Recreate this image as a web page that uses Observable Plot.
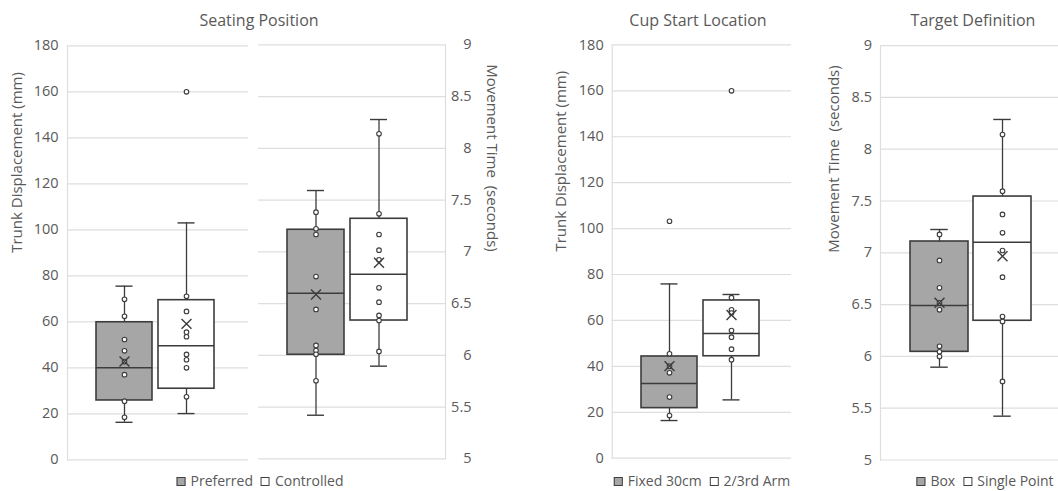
<!DOCTYPE html>
<html>
<head>
<meta charset="utf-8">
<script src="https://cdn.jsdelivr.net/npm/d3@7"></script>
<script src="https://cdn.jsdelivr.net/npm/@observablehq/plot@0.6"></script>
<style>
  html, body { margin: 0; padding: 0; background: #ffffff; }
  #wrap { position: relative; width: 1058px; height: 491px; overflow: hidden; font-family: "Open Sans", sans-serif; color: #595959; }
  #wrap svg { position: absolute; left: 0; top: 0; }
  svg text { white-space: pre; }
  .title { position: absolute; top: 9px; font-size: 16px; line-height: 22px; transform: translateX(-50%); white-space: nowrap; }
  .legend { position: absolute; top: 471px; font-size: 14px; line-height: 20px; transform: translateX(-50%); white-space: nowrap; display: flex; align-items: center; }
  .legend .sw { display: inline-block; width: 7px; height: 7px; border: 1px solid #404040; margin-right: 5px; }
  .legend .item { display: flex; align-items: center; margin-right: 8px; }
  .legend .item:last-child { margin-right: 0; }
</style>
</head>
<body>
<div id="wrap"></div>
<script>
// ---------------- data ----------------
const statFields = ["lo", "q1", "median", "q3", "hi", "mean"];
const trunkTicks = [0, 20, 40, 60, 80, 100, 120, 140, 160, 180];
const timeTicks = [5, 5.5, 6, 6.5, 7, 7.5, 8, 8.5, 9];
const boxFills = ["#a6a6a6", "#ffffff"];

const panelTitles = ["Seating Position", "Cup Start Location", "Target Definition"];
const trunkLabel = "Trunk Displacement (mm)";
const timeLabel = "Movement Time  (seconds)";

const seatingGroups = ["Preferred", "Controlled"];
const seatingTrunkStats = [
  [16.3, 25.8, 40.0, 59.8, 75.5, 42.7],
  [20.1, 30.9, 49.6, 69.4, 103.0, 59.1]
];
const seatingTrunkPoints = [
  [69.8, 62.4, 52.3, 47.4, 42.7, 37.0, 25.5, 18.5],
  [160, 71.1, 64.5, 55.5, 53.5, 45.8, 43.5, 40.0, 27.4]
];
const seatingTimeStats = [
  [5.421, 6.005, 6.600, 7.213, 7.592, 6.587],
  [5.895, 6.336, 6.784, 7.319, 8.278, 6.894]
];
const seatingTimePoints = [
  [7.383, 7.222, 7.167, 6.761, 6.443, 6.095, 6.046, 6.010, 5.754],
  [8.140, 7.367, 7.167, 7.016, 6.923, 6.652, 6.513, 6.385, 6.336, 6.037]
];

const cupGroups = ["Fixed 30cm", "2/3rd Arm"];
const cupTrunkStats = [
  [16.4, 21.8, 32.5, 44.3, 75.9, 40.1],
  [25.4, 44.4, 54.3, 68.7, 71.3, 62.4]
];
const cupTrunkPoints = [
  [103.2, 45.5, 40.1, 37.2, 26.6, 18.6],
  [160, 69.9, 64.6, 63.2, 55.6, 52.7, 47.5, 42.9]
];

const targetGroups = ["Box", "Single Point"];
const targetTimeStats = [
  [5.896, 6.044, 6.491, 7.109, 7.225, 6.517],
  [5.423, 6.344, 7.102, 7.543, 8.287, 6.967]
];
const targetTimePoints = [
  [7.177, 6.926, 6.662, 6.517, 6.450, 6.098, 6.044, 5.999],
  [8.142, 7.595, 7.370, 7.193, 7.022, 6.765, 6.385, 6.337, 5.758]
];

// ---------------- drawing ----------------
const W = 1058, H = 491;
const dark = "#3c3c3c";
const gridColor = "#dedede";
const wrap = document.getElementById("wrap");

function panel(cfg) {
  const boxes = cfg.groups.map((g, i) => {
    const o = {group: g};
    statFields.forEach((k, j) => o[k] = cfg.stats[i][j]);
    return o;
  });
  const pts = cfg.groups.flatMap((g, i) => cfg.points[i].map(v => ({group: g, v})));
  const step = cfg.c2 - cfg.c1;
  const pi = 1 - cfg.bw / step;
  const capInset = (cfg.bw - 17) / 2;
  const right = cfg.axisAnchor === "right";
  return Plot.plot({
    width: W, height: H,
    marginLeft: cfg.L, marginRight: W - cfg.R, marginTop: cfg.T, marginBottom: H - cfg.B,
    style: {background: "transparent", fontFamily: "Open Sans", fontSize: "14px", color: "#595959", overflow: "visible"},
    x: {type: "band", domain: cfg.groups, range: [cfg.c1 - step / 2, cfg.c2 + step / 2], paddingInner: pi, paddingOuter: pi / 2, axis: null},
    y: {domain: cfg.yDomain, axis: null},
    color: {domain: cfg.groups, range: boxFills},
    marks: [
      Plot.gridY(cfg.ticks, {stroke: gridColor, strokeOpacity: 1, strokeWidth: 1.2}),
      Plot.frame({anchor: cfg.frameSide, stroke: gridColor, strokeOpacity: 1, strokeWidth: 1.2}),
      Plot.axisY(cfg.ticks, {anchor: cfg.axisAnchor, tickSize: 0, tickPadding: cfg.tickPad, textAnchor: "end", label: null, fontSize: 14.5, fill: "#595959", tickFormat: d => String(d)}),
      Plot.ruleX(boxes, {x: "group", y1: "lo", y2: "q1", stroke: dark, strokeWidth: 1.3}),
      Plot.ruleX(boxes, {x: "group", y1: "q3", y2: "hi", stroke: dark, strokeWidth: 1.3}),
      Plot.tickY(boxes, {x: "group", y: "lo", insetLeft: capInset, insetRight: capInset, stroke: dark, strokeWidth: 1.4}),
      Plot.tickY(boxes, {x: "group", y: "hi", insetLeft: capInset, insetRight: capInset, stroke: dark, strokeWidth: 1.4}),
      Plot.barY(boxes, {x: "group", y1: "q1", y2: "q3", fill: "group", stroke: dark, strokeWidth: 1.6}),
      Plot.tickY(boxes, {x: "group", y: "median", stroke: dark, strokeWidth: 1.5}),
      Plot.dot(pts, {x: "group", y: "v", r: 2.3, fill: "white", stroke: dark, strokeWidth: 1.1}),
      Plot.dot(boxes, {x: "group", y: "mean", symbol: "times", r: 4.6, stroke: dark, strokeWidth: 1.4}),
      Plot.text([cfg.axisTitle], {text: d => d, frameAnchor: cfg.axisAnchor, dx: cfg.titleDx, rotate: right ? 90 : -90, fontSize: 15, fill: "#595959"})
    ]
  });
}

const panels = [
  {groups: seatingGroups, stats: seatingTrunkStats, points: seatingTrunkPoints, yDomain: [0, 180], ticks: trunkTicks,
   L: 67, R: 248, T: 45.3, B: 459.3, c1: 124, c2: 186.3, bw: 56, axisAnchor: "left", frameSide: "left", tickPad: 9, titleDx: -50, axisTitle: trunkLabel},
  {groups: seatingGroups, stats: seatingTimeStats, points: seatingTimePoints, yDomain: [5, 9], ticks: timeTicks,
   L: 258, R: 445, T: 44.3, B: 458.3, c1: 315.3, c2: 378.7, bw: 57, axisAnchor: "right", frameSide: "right", tickPad: 26, titleDx: 46, axisTitle: timeLabel},
  {groups: cupGroups, stats: cupTrunkStats, points: cupTrunkPoints, yDomain: [0, 180], ticks: trunkTicks,
   L: 611.7, R: 791, T: 44.4, B: 457.7, c1: 669, c2: 731, bw: 56, axisAnchor: "left", frameSide: "left", tickPad: 8.5, titleDx: -51, axisTitle: trunkLabel},
  {groups: targetGroups, stats: targetTimeStats, points: targetTimePoints, yDomain: [5, 9], ticks: timeTicks,
   L: 880, R: 1058, T: 45.1, B: 459.5, c1: 938.7, c2: 1001.7, bw: 57.5, axisAnchor: "left", frameSide: "left", tickPad: 8.5, titleDx: -46, axisTitle: timeLabel}
];

panels.forEach(cfg => wrap.appendChild(panel(cfg)));

// titles
const titleX = [259, 698, 973];
panelTitles.forEach((t, i) => {
  const d = document.createElement("div");
  d.className = "title";
  d.style.left = titleX[i] + "px";
  d.textContent = t;
  wrap.appendChild(d);
});

// legends
const legendX = [260, 702, 985];
[seatingGroups, cupGroups, targetGroups].forEach((groups, i) => {
  const lg = document.createElement("div");
  lg.className = "legend";
  lg.style.left = legendX[i] + "px";
  groups.forEach((g, j) => {
    const it = document.createElement("span");
    it.className = "item";
    const sw = document.createElement("span");
    sw.className = "sw";
    sw.style.background = boxFills[j];
    it.appendChild(sw);
    it.appendChild(document.createTextNode(g));
    lg.appendChild(it);
  });
  wrap.appendChild(lg);
});
</script>
</body>
</html>
